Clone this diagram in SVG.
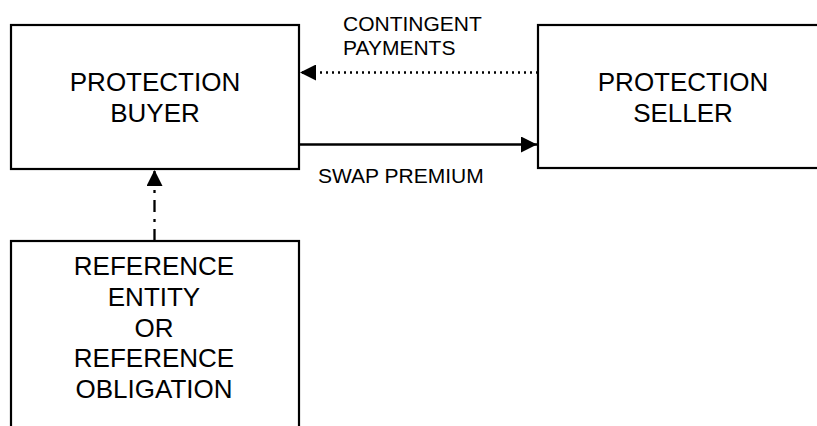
<svg xmlns="http://www.w3.org/2000/svg" width="817" height="426" viewBox="0 0 817 426">
  <style>
    .box { fill: #ffffff; stroke: #000000; stroke-width: 2.2; }
    .node-text { font-family: "Liberation Sans", Arial, sans-serif; font-size: 26px; fill: #000000; text-anchor: middle; }
    .label { font-family: "Liberation Sans", Arial, sans-serif; font-size: 21px; fill: #000000; }
    .link { fill: none; stroke: #000000; stroke-width: 2.3; }
    .dotted { stroke-dasharray: 2 4; }
    .dashdot { stroke-dasharray: 12 7 3 7; }
  </style>
  <defs>
    <marker id="head" markerUnits="userSpaceOnUse" markerWidth="16" markerHeight="16" viewBox="0 0 15 15" refX="15" refY="7.5" orient="auto">
      <path d="M0,0 L15,7.5 L0,15 Z" fill="#000000"/>
    </marker>
  </defs>
  <rect width="817" height="426" fill="#ffffff"/>

  <g id="protection-buyer">
    <rect class="box" x="11" y="25" width="288" height="144"/>
    <text class="node-text" x="155" y="91">PROTECTION</text>
    <text class="node-text" x="155" y="122">BUYER</text>
  </g>

  <g id="protection-seller">
    <rect class="box" x="538" y="25" width="300" height="143"/>
    <text class="node-text" x="683" y="91">PROTECTION</text>
    <text class="node-text" x="683" y="122">SELLER</text>
  </g>

  <g id="reference-entity">
    <rect class="box" x="11" y="241" width="288" height="200"/>
    <text class="node-text" x="154" y="275">REFERENCE</text>
    <text class="node-text" x="154" y="306">ENTITY</text>
    <text class="node-text" x="154" y="336.5">OR</text>
    <text class="node-text" x="154" y="367">REFERENCE</text>
    <text class="node-text" x="154" y="397.5">OBLIGATION</text>
  </g>

  <g id="connectors">
    <line class="link dotted" x1="538" y1="72.5" x2="300" y2="72.5" marker-end="url(#head)"/>
    <line class="link" x1="300" y1="144.5" x2="537" y2="144.5" marker-end="url(#head)"/>
    <line class="link dashdot" x1="154.5" y1="241" x2="154.5" y2="170" marker-end="url(#head)"/>
    <text class="label" x="343" y="31">CONTINGENT</text>
    <text class="label" x="343" y="54.5">PAYMENTS</text>
    <text class="label" x="318" y="182.5">SWAP PREMIUM</text>
  </g>
</svg>
